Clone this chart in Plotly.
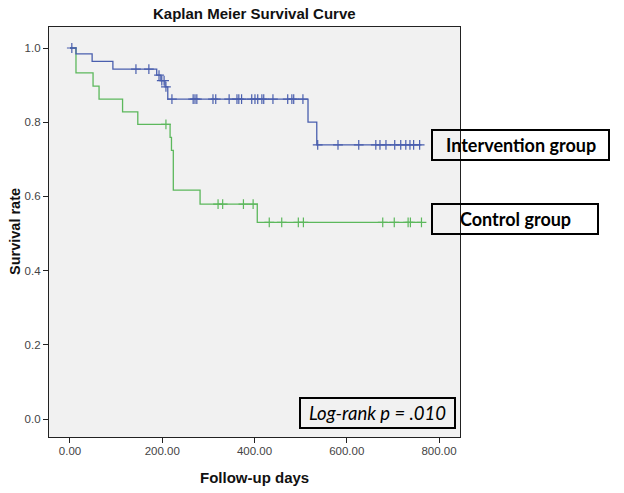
import plotly.graph_objects as go
import numpy as np

# ---- data ----
int_times = [0, 13, 48, 93, 188, 197, 206, 212, 516, 535, 762]
int_surv = [1.0, 0.984, 0.964, 0.943, 0.927, 0.912, 0.895, 0.862, 0.800, 0.739, 0.739]
int_censor = [4, 143, 171, 193, 199, 204, 208, 221, 267, 271, 275, 310, 316, 345, 362,
              366, 372, 394, 401, 407, 416, 420, 440, 472, 481, 485, 505,
              537, 581, 626, 663, 672, 685, 704, 717, 728, 737, 745, 758]

ctl_times = [0, 13, 50, 63, 114, 147, 217, 220, 224, 282, 406, 762]
ctl_surv = [1.0, 0.933, 0.897, 0.862, 0.828, 0.794, 0.759, 0.724, 0.617, 0.579, 0.530, 0.530]
ctl_censor = [208, 321, 331, 376, 397, 432, 459, 495, 506, 678, 703, 733, 738, 762]

x_ticks = [0, 200, 400, 600, 800]
x_labels = ["0.00", "200.00", "400.00", "600.00", "800.00"]
y_ticks = [0.0, 0.2, 0.4, 0.6, 0.8, 1.0]
y_labels = ["0.0", "0.2", "0.4", "0.6", "0.8", "1.0"]

BLUE = "#4a5fae"
GREEN = "#5cb85c"


def step_value(times, surv, t):
    idx = np.searchsorted(np.array(times), t, side="right") - 1
    return surv[max(idx, 0)]


fig = go.Figure()
for times, surv, cens, col, name in [
    (ctl_times, ctl_surv, ctl_censor, GREEN, "Control group"),
    (int_times, int_surv, int_censor, BLUE, "Intervention group"),
]:
    fig.add_trace(go.Scatter(x=times, y=surv, mode="lines", line=dict(shape="hv", color=col, width=1.3),
                             name=name, showlegend=False, hoverinfo="skip"))
    fig.add_trace(go.Scatter(x=cens, y=[step_value(times, surv, t) for t in cens], mode="markers",
                             marker=dict(symbol="cross-thin", size=7, line=dict(color=col, width=1.2)),
                             showlegend=False, hoverinfo="skip"))

L, T, R, B = 49, 27, 460, 437
W, H = 624, 493
pw, ph = R - L, B - T


def px(x):
    return (x - L) / pw


def py(y):
    return (B - y) / ph


shapes = []
annotations = []
for (x0, y0, x1, y1, text, style, size) in [
    (432, 130, 609, 160, "Intervention group", "normal", 18),
    (432, 204, 598, 234, "Control group", "normal", 18),
    (300, 398, 455, 428, "Log-rank p = .010", "italic", 18.5),
]:
    shapes.append(dict(type="rect", xref="paper", yref="paper", x0=px(x0), x1=px(x1), y0=py(y1), y1=py(y0),
                       line=dict(color="black", width=2), fillcolor="rgba(0,0,0,0)", layer="above"))
    annotations.append(dict(xref="paper", yref="paper", x=px((x0 + x1) / 2), y=py((y0 + y1) / 2),
                            text=text, showarrow=False, xanchor="center", yanchor="middle",
                            font=dict(family="Lato", size=size, color="black", style=style,
                                      weight="bold" if style == "normal" else "normal")))

title_font = dict(family="Liberation Sans", size=15, color="#111")
annotations.append(dict(xref="paper", yref="paper", x=0.5, y=py(14), text="<b>Kaplan Meier Survival Curve</b>",
                        showarrow=False, xanchor="center", yanchor="middle", font=title_font))
annotations.append(dict(xref="paper", yref="paper", x=0.5, y=py(477), text="<b>Follow-up days</b>",
                        showarrow=False, xanchor="center", yanchor="middle", font=title_font))
annotations.append(dict(xref="paper", yref="paper", x=px(15), y=py(232), text="<b>Survival rate</b>",
                        textangle=-90, showarrow=False, xanchor="center", yanchor="middle",
                        font=dict(family="Liberation Sans", size=14.5, color="#111")))

fig.update_layout(
    width=W, height=H,
    margin=dict(l=L, r=W - R, t=T, b=H - B, autoexpand=False),
    paper_bgcolor="white", plot_bgcolor="#f1f1f1",
    shapes=shapes, annotations=annotations,
    font=dict(family="Liberation Sans"),
    xaxis=dict(range=[-45.5, 845.5], tickvals=x_ticks, ticktext=x_labels, showgrid=False, zeroline=False,
               showline=True, linecolor="#222", linewidth=1.2, mirror=True,
               ticks="outside", ticklen=5, tickcolor="#222", ticklabelstandoff=-2,
               tickfont=dict(size=11.5, color="#444")),
    yaxis=dict(range=[-0.0485, 1.0566], tickvals=y_ticks, ticktext=y_labels, showgrid=False, zeroline=False,
               showline=True, linecolor="#222", linewidth=1.2, mirror=True,
               ticks="outside", ticklen=5, tickcolor="#222",
               tickfont=dict(size=11.5, color="#444")),
)

fig.write_html("out.html", config={"displayModeBar": False},
               post_script="document.body.style.margin='0';document.body.style.overflow='hidden';")
